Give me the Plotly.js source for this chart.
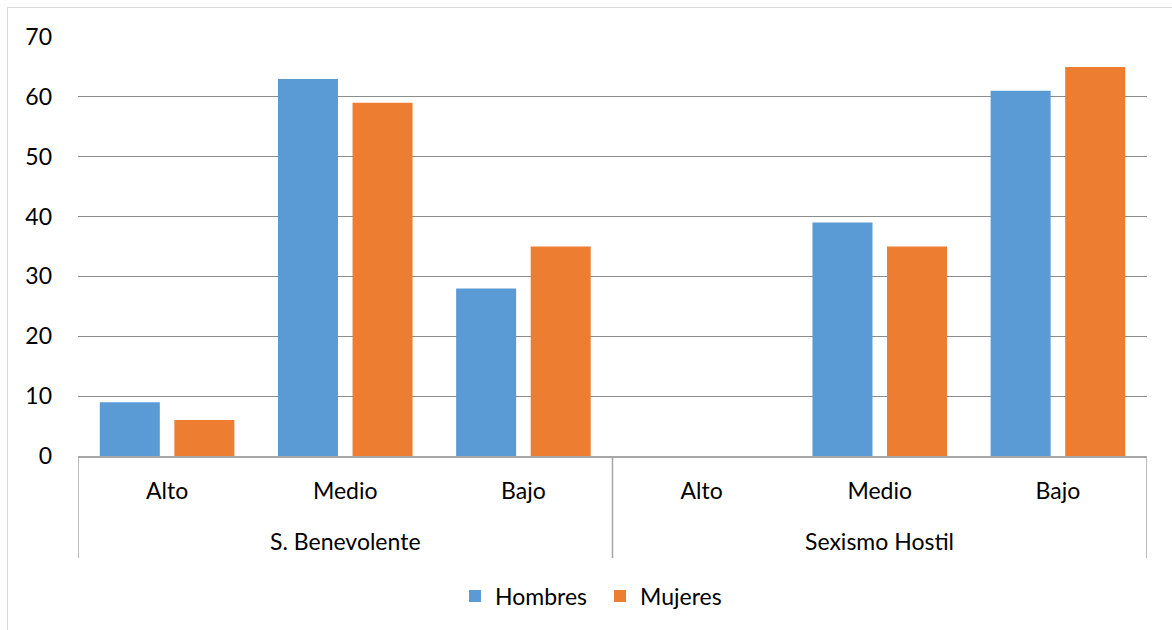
<!DOCTYPE html>
<html>
<head>
<meta charset="utf-8">
<script src="https://cdn.plot.ly/plotly-3.0.1.min.js"></script>
<style>
  html, body { margin: 0; padding: 0; background: #fff; }
  #chart { width: 1172px; height: 630px; }
</style>
</head>
<body>
<div id="chart"></div>
<script>
const groups = ["S. Benevolente", "S. Benevolente", "S. Benevolente", "Sexismo Hostil", "Sexismo Hostil", "Sexismo Hostil"];
const levels = ["Alto", "Medio", "Bajo", "Alto", "Medio", "Bajo"];
const hombres = [9, 63, 28, 0, 39, 61];
const mujeres = [6, 59, 35, 0, 35, 65];
const yTicks = [0, 10, 20, 30, 40, 50, 60, 70];

const FONT = "Lato, 'Open Sans', sans-serif";
const FS = 23;

// category index positions, derived from the level list
const idx = levels.map((_, i) => i);

const traces = [
  { type: "bar", name: "Hombres", x: idx, y: hombres,
    marker: { color: "#5b9bd5" } },
  { type: "bar", name: "Mujeres", x: idx, y: mujeres,
    marker: { color: "#ed7d31" } }
];

const L = 78, R = 1147, T = 37, B = 456;
const pxX = px => (px - L) / (R - L);
const pxY = py => (B - py) / (B - T);

// group spans from the groups array
const spans = [];
groups.forEach((g, i) => {
  if (!spans.length || spans[spans.length - 1].name !== g) spans.push({ name: g, start: i, end: i });
  else spans[spans.length - 1].end = i;
});

const divColor = "#a6a6a6";
const shapes = [
  { type: "rect", xref: "paper", yref: "paper",
    x0: pxX(7.5), x1: pxX(1200), y0: pxY(700), y1: pxY(7.5),
    line: { color: "#d9d9d9", width: 1 }, fillcolor: "rgba(0,0,0,0)", layer: "below" }
];
const bounds = [spans[0].start - 0.5].concat(spans.map(s => s.end + 0.5));
bounds.forEach(b => shapes.push({
  type: "line", xref: "x", yref: "paper", x0: b, x1: b, y0: 0, y1: pxY(558),
  line: { color: divColor, width: 1.5 }
}));

const annotations = spans.map(s => ({
  xref: "x", yref: "paper", x: (s.start + s.end) / 2, y: pxY(541),
  xanchor: "center", yanchor: "middle", showarrow: false,
  text: s.name, font: { family: FONT, size: FS, color: "#000" }
}));

const layout = {
  width: 1172, height: 630,
  margin: { l: L, r: 1172 - R, t: T, b: 630 - B },
  paper_bgcolor: "#fff", plot_bgcolor: "#fff",
  font: { family: FONT, size: FS, color: "#000" },
  barmode: "group",
  bargap: 0.163,
  bargroupgap: 0.195,
  showlegend: true,
  legend: { orientation: "h", x: pxX(600), xanchor: "center", y: pxY(596), yanchor: "middle",
            font: { family: FONT, size: FS, color: "#000" }, traceorder: "normal",
            entrywidth: 100, entrywidthmode: "pixels" },
  xaxis: {
    type: "linear", range: [-0.5, levels.length - 0.5],
    tickvals: idx, ticktext: levels,
    showline: true, linecolor: divColor, linewidth: 1.5,
    showgrid: false, zeroline: false, ticks: "",
    tickfont: { family: FONT, size: FS, color: "#000" },
    ticklabelstandoff: 14,
    fixedrange: true
  },
  yaxis: {
    range: [0, 70], tickvals: yTicks, ticktext: yTicks.map(String),
    showgrid: true, gridcolor: "#8c8c8c", gridwidth: 1,
    zeroline: false, showline: false, ticks: "",
    tickfont: { family: FONT, size: FS, color: "#000" },
    ticklabelstandoff: 25,
    fixedrange: true
  },
  shapes: shapes,
  annotations: annotations
};

Plotly.newPlot("chart", traces, layout, { displayModeBar: false, staticPlot: true });
</script>
</body>
</html>
